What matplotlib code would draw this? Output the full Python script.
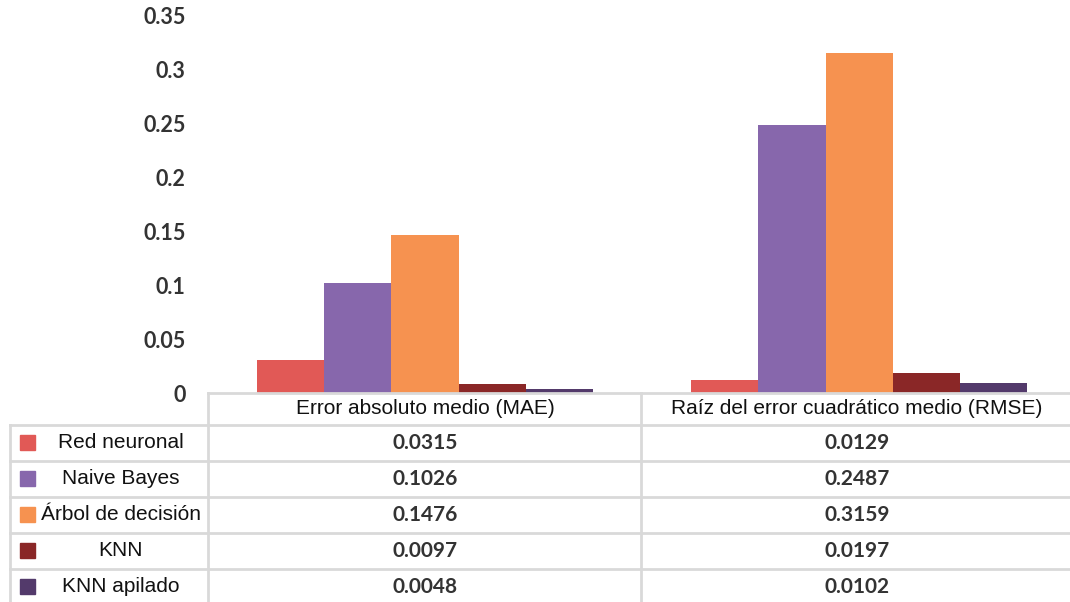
import numpy as np
import matplotlib.pyplot as plt
from matplotlib.lines import Line2D
from matplotlib.patches import Rectangle

metricas = ['Error absoluto medio (MAE)', 'Raíz del error cuadrático medio (RMSE)']
modelos = ['Red neuronal', 'Naive Bayes', 'Árbol de decisión', 'KNN', 'KNN apilado']
mae = [0.0315, 0.1026, 0.1476, 0.0097, 0.0048]
rmse = [0.0129, 0.2487, 0.3159, 0.0197, 0.0102]
colores = ['#E15956', '#8767AC', '#F69250', '#8A2727', '#533A6B']
yticks = [0, 0.05, 0.1, 0.15, 0.2, 0.25, 0.3, 0.35]
ytick_labels = ['0', '0.05', '0.1', '0.15', '0.2', '0.25', '0.3', '0.35']

W, H = 1070, 602
fig = plt.figure(figsize=(W / 100, H / 100), dpi=100)


def fx(x):
    return x / W


def fy(y):
    return 1 - y / H


# plot area: x 208..1070, y 0 -> 394 px, 0.35 -> 16 px
ax = fig.add_axes([fx(208), fy(394), fx(1070) - fx(208), fy(16) - fy(394)])
valores = np.array([mae, rmse])
n = len(modelos)
ancho = 0.1545
x = np.arange(len(metricas))
for i in range(n):
    ax.bar(x + (i - (n - 1) / 2) * ancho, valores[:, i], ancho, color=colores[i])
ax.set_xlim(-0.5, 1.486)
ax.set_ylim(0, 0.35)
ax.set_xticks([])
ax.set_yticks(yticks)
ax.set_yticklabels(ytick_labels, fontfamily='Lato', fontweight='bold',
                   fontsize=15.5, color='#333333')
ax.tick_params(axis='y', length=0, pad=16)
for s in ax.spines.values():
    s.set_visible(False)

# data table under the bars
gris = '#D9D9D9'
filas = [425, 461, 497, 533, 569, 605]


def linea(x0, x1, y0, y1):
    fig.add_artist(Line2D([fx(x0), fx(x1)], [fy(y0), fy(y1)], color=gris, lw=2))


linea(208, 1070, 393, 393)
for y in filas[:-1]:
    linea(10, 1070, y, y)
linea(10, 10, 425, 602)
linea(208, 208, 393, 602)
linea(641, 641, 393, 602)

col_centros = [425, 857]
for j, m in enumerate(metricas):
    fig.text(fx(col_centros[j]), fy(409), m, ha='center', va='center',
             fontfamily='Liberation Sans', fontsize=15, color='#111111')

for i, nombre in enumerate(modelos):
    yc = (filas[i] + filas[i + 1]) / 2
    fig.add_artist(Rectangle((fx(20), fy(yc + 6.5)), fx(15), fy(0) - fy(15),
                             color=colores[i], transform=fig.transFigure))
    fig.text(fx(121), fy(yc), nombre, ha='center', va='center',
             fontfamily='Liberation Sans', fontsize=15, color='#111111')
    for j in range(len(metricas)):
        fig.text(fx(col_centros[j]), fy(yc), f'{valores[j, i]:.4f}',
                 ha='center', va='center', fontfamily='Lato',
                 fontweight='bold', fontsize=15, color='#333333')

fig.savefig('out.png', dpi=100)
